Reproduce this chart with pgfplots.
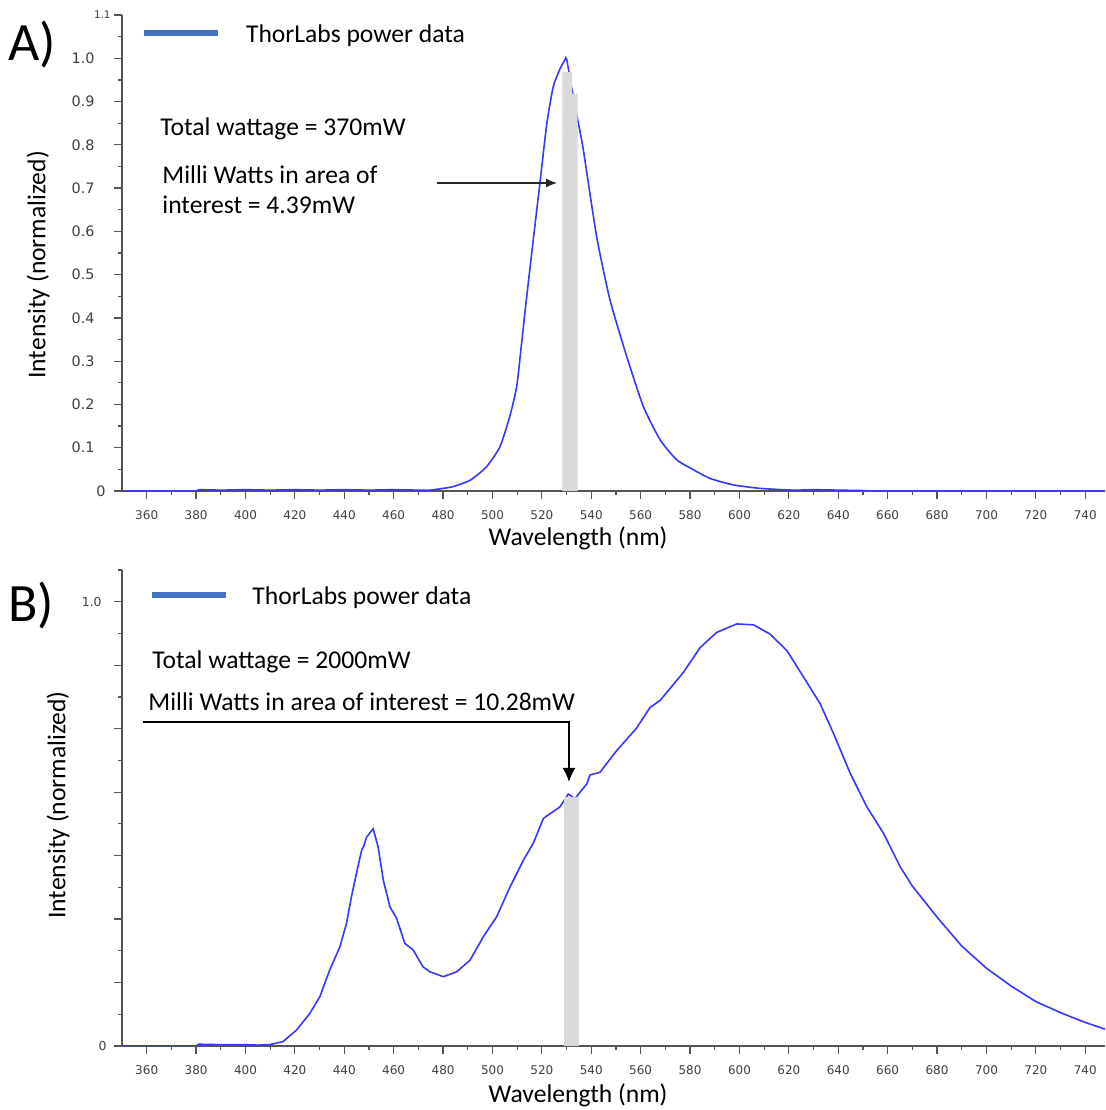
\documentclass[border=0pt]{standalone}
\usepackage{pgfplots}
\pgfplotsset{compat=1.18}
\usetikzlibrary{arrows.meta}
\usepackage{fontspec}
\setmainfont{Carlito}
\newfontfamily\tickfont{DejaVu Sans}
\definecolor{curveblue}{RGB}{55,55,255}
\definecolor{legblue}{RGB}{68,114,196}
\definecolor{axgray}{RGB}{85,85,85}
\definecolor{shade}{RGB}{217,217,217}
\newcommand{\lblfont}{\fontsize{12.8}{15}\selectfont}

\pgfplotsset{myax/.style={
  scale only axis, width=491.5pt, height=238pt,
  xmin=350, xmax=748,
  axis lines*=left,
  axis line style={axgray, line width=0.75pt},
  xtick={360,380,...,740}, minor x tick num=1,
  tick align=outside, major tick length=3.8pt, minor tick length=2pt,
  tick style={axgray, line width=0.6pt},
  /pgf/number format/assume math mode=true,
  xticklabel style={font=\tickfont\fontsize{6}{6}\selectfont, text=black!75, anchor=north, inner sep=0pt, yshift=-6pt},
  scaled ticks=false,
  xlabel={Wavelength (nm)},
  xlabel style={at={(axis description cs:0.464,0)}, anchor=center, font=\lblfont},
  ylabel={Intensity (normalized)},
  ylabel style={font=\lblfont},
  legend image code/.code={\draw[legblue, line width=3pt] (0pt,1pt) -- (37pt,1pt);},
  legend cell align=left,
}}

\begin{document}
\begin{tikzpicture}
\useasboundingbox (0,0) rectangle (552.5pt,555pt);

% ---------------- Panel A ----------------
\begin{axis}[myax,
  at={(61pt,309.5pt)}, anchor=south west,
  ymin=0, ymax=1.1,
  ytick={0,0.1,0.2,0.3,0.4,0.5,0.6,0.7,0.8,0.9,1.0,1.1},
  yticklabels={{\makebox[0pt][l]{\hspace{6pt}\llap{0}}},0.1,0.2,0.3,0.4,0.5,0.6,0.7,0.8,0.9,1.0,{\makebox[0pt][l]{\hspace{8.5pt}\llap{\fontsize{5.2}{5.2}\selectfont 1.1}}}},
  minor y tick num=1,
  yticklabel style={font=\tickfont\fontsize{7.2}{7.2}\selectfont, text=black!75, anchor=east, inner sep=0pt, xshift=-9.7pt},
  xlabel style={yshift=-23.5pt},
  ylabel style={at={(axis description cs:0,0.475)}, anchor=center, yshift=42pt},
  legend style={at={(axis description cs:0.019,0.958)}, anchor=west, draw=none, fill=none, inner sep=0pt, font=\lblfont, /tikz/every odd column/.style={column sep=10.5pt}},
]
\addlegendimage{legblue}
\addlegendentry{ThorLabs power data}
\addplot[curveblue, line width=0.8pt, forget plot, smooth, tension=0.35] coordinates {
(350,0) (380,0) (381,0.003) (390,0.002) (400,0.003) (410,0.002) (420,0.003) (430,0.002) (440,0.003) (450,0.002) (460,0.003) (470,0.002)
(474.7,0.002) (480,0.006) (484,0.01) (491,0.025) (497.6,0.056) (503,0.102) (507,0.172) (509.8,0.241)
(511.5,0.326) (513.4,0.426) (516.5,0.58) (519.2,0.711) (522,0.849) (524.6,0.934) (527.3,0.975) (529.4,0.997) (530,0.999)
(532.1,0.93) (534.8,0.849) (536.8,0.788) (542.2,0.587) (547.6,0.441) (554.4,0.31) (561.1,0.195) (567.9,0.118)
(574.6,0.072) (581.4,0.049) (588.1,0.029) (597.6,0.014) (608.4,0.006) (621.8,0.002) (630,0.003) (640,0.002) (650,0.001) (660,0) (748,0)
};
\addplot[fill=shade, draw=none, forget plot] coordinates {(528.3,0) (528.3,0.968) (532.2,0.968) (532.2,0.918) (534.5,0.918) (534.5,0)} -- cycle;
\end{axis}

% ---------------- Panel B ----------------
\begin{axis}[myax,
  at={(61pt,32pt)}, anchor=south west,
  ymin=0, ymax=1.0714,
  ytick={0,0.142857,0.285714,0.428571,0.571429,0.714286,0.857143,1.0},
  yticklabels={{\makebox[0pt][l]{\hspace{3pt}\llap{0}}},,,,,,,1.0},
  minor y tick num=1,
  extra y ticks={1.0714}, extra y tick labels={},
  extra y tick style={major tick length=2pt},
  yticklabel style={font=\tickfont\fontsize{6.2}{6.2}\selectfont, text=black!75, anchor=east, inner sep=0pt, xshift=-6.2pt},
  xlabel style={yshift=-24.5pt},
  ylabel style={at={(axis description cs:0,0.506)}, anchor=center, yshift=32pt},
  legend style={at={(axis description cs:0.0275,0.943)}, anchor=west, draw=none, fill=none, inner sep=0pt, font=\lblfont, /tikz/every odd column/.style={column sep=9.5pt}},
]
\addlegendimage{legblue}
\addlegendentry{ThorLabs power data}
\addplot[curveblue, line width=0.8pt, forget plot] coordinates {
(350,0) (380,0) (381,0.004) (390,0.003) (400,0.003) (405,0.002) (409.8,0.003) (415.2,0.01) (420.7,0.036) (426,0.073)
(430.1,0.111) (434.1,0.171) (438.2,0.223) (440.9,0.276) (442.9,0.336) (444.9,0.388) (447,0.44) (448,0.452) (449,0.47)
(451.7,0.489) (453.7,0.448) (455.8,0.373) (458.5,0.313) (461.2,0.287) (464.5,0.231) (467.9,0.216) (471.9,0.178)
(474.7,0.167) (480.1,0.156) (485.5,0.167) (490.9,0.193) (496.3,0.246) (501.7,0.291) (507.1,0.358) (512.5,0.418)
(516.5,0.456) (520.6,0.512) (523.3,0.523) (527.3,0.538) (530.7,0.567) (533.4,0.557) (538.2,0.59) (539.5,0.61)
(543.5,0.616) (550.3,0.665) (558.4,0.716) (563.8,0.762) (567.9,0.778) (577.3,0.841) (584.1,0.897) (590.8,0.931)
(598.9,0.95) (605.7,0.948) (612.4,0.927) (619.2,0.89) (626,0.83) (632.7,0.77) (638.1,0.703) (644.9,0.613)
(651.6,0.538) (658.4,0.478) (665.1,0.403) (670,0.36) (680,0.29) (690,0.225) (700,0.175) (710,0.135) (720,0.10)
(730,0.075) (740,0.053) (748,0.038)
};
\addplot[fill=shade, draw=none, forget plot] coordinates {(529.1,0) (529.1,0.56) (535,0.56) (535,0)} -- cycle;
\end{axis}

% ---------------- annotations (pixel coordinates) ----------------
\begin{scope}[x=0.5pt, y=-0.5pt, shift={(0pt,555pt)}]
  \node[anchor=west, inner sep=0pt, font=\fontsize{27}{30}\selectfont] at (8,45) {A)};
  \node[anchor=west, inner sep=0pt, font=\fontsize{27}{30}\selectfont] at (8,605) {B)};
  \node[anchor=west, inner sep=0pt, font=\lblfont] at (160,129) {Total wattage = 370mW};
  \node[anchor=west, inner sep=0pt, font=\lblfont] at (162,175) {Milli Watts in area of};
  \node[anchor=west, inner sep=0pt, font=\lblfont] at (162,205) {interest = 4.39mW};
  \draw[black!85, line width=0.6pt, -{Latex[length=5.5pt,width=4.5pt]}] (437,183) -- (557,183);
  \node[anchor=west, inner sep=0pt, font=\lblfont] at (152,662) {Total wattage = 2000mW};
  \node[anchor=west, inner sep=0pt, font=\lblfont] at (148,702) {Milli Watts in area of interest = 10.28mW};
  \draw[black, line width=0.9pt, -{Latex[length=7pt,width=6.5pt]}] (143,722) -- (569,722) -- (569,782);
\end{scope}
\end{tikzpicture}
\end{document}
